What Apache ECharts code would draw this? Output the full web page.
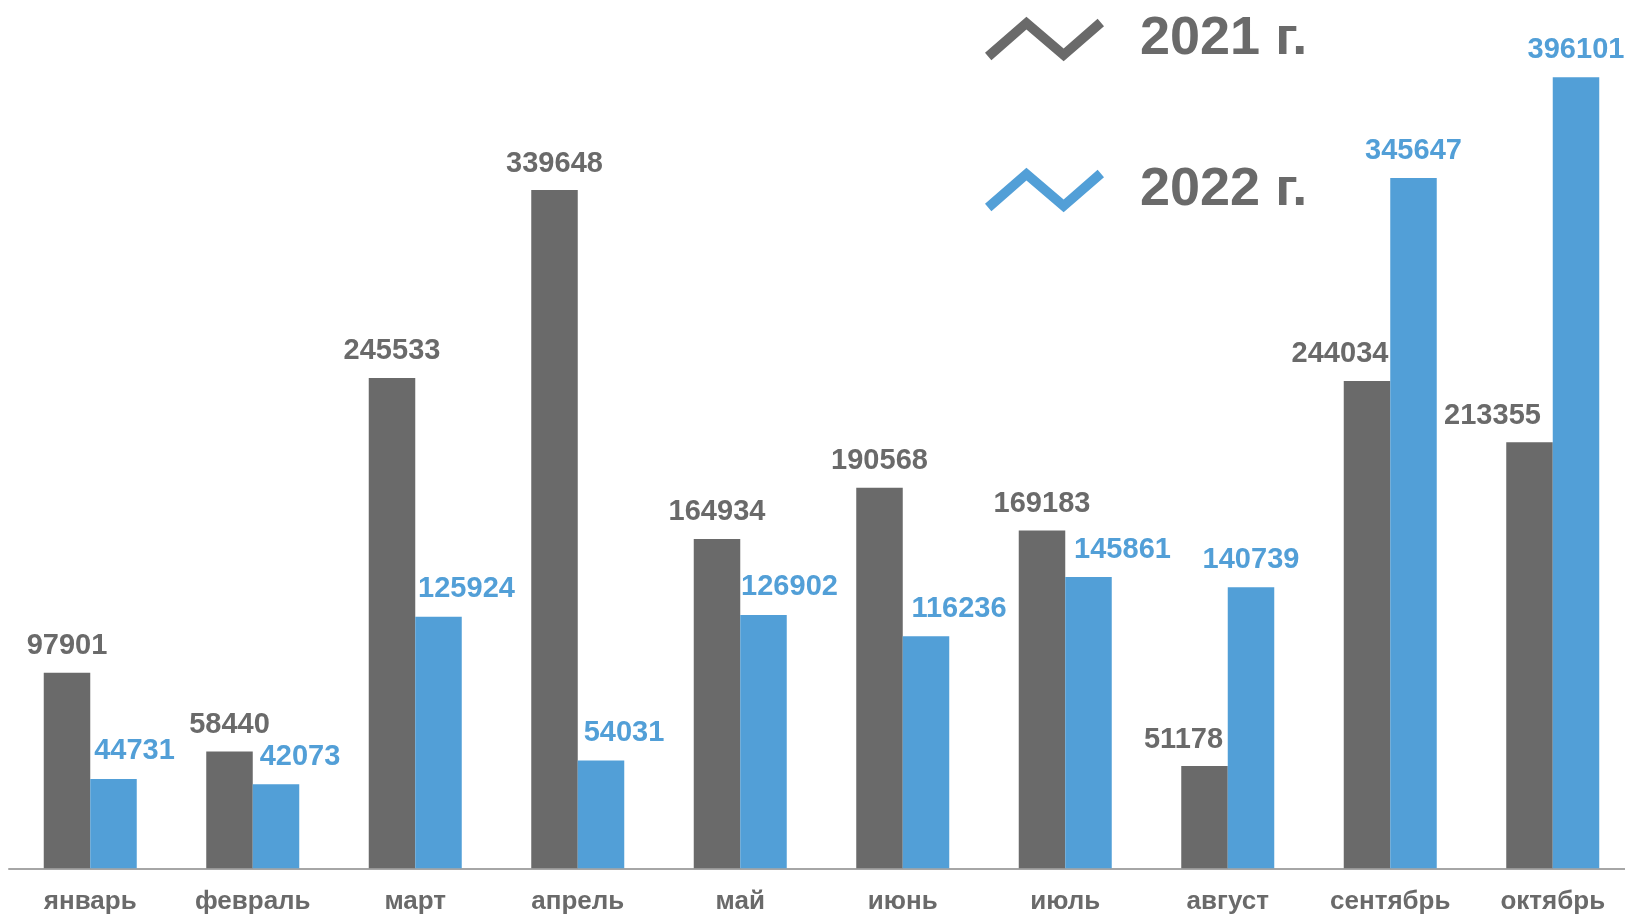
<!DOCTYPE html>
<html>
<head>
<meta charset="utf-8">
<script src="https://cdn.jsdelivr.net/npm/echarts@6/dist/echarts.min.js"></script>
<style>
html,body{margin:0;padding:0;background:#fff;}
#c{width:1625px;height:915px;}
</style>
</head>
<body>
<div id="c"></div>
<script>
var categories = ['январь','февраль','март','апрель','май','июнь','июль','август','сентябрь','октябрь'];
var series2021 = [97901, 58440, 245533, 339648, 164934, 190568, 169183, 51178, 244034, 213355];
var series2022 = [44731, 42073, 125924, 54031, 126902, 116236, 145861, 140739, 345647, 396101];
var seriesNames = ['2021 г.', '2022 г.'];
var labelShift2021 = [0, 0, 0, 0, 0, 0, 0, -21, -27, -37];
var labelShift2022 = [21, 24, 28, 23, 26, 33, 34, 0, 0, 0];

var GREY = '#6a6a6a', BLUE = '#529fd7';
var FONT = "'Liberation Sans', Arial, sans-serif";
var ICON = 'path://M0,34 L39,0 L74,30 L106,2 L112,9 L74,42 L39,12 L6,41 Z';

function mkData(vals, shifts) {
  return vals.map(function (v, i) {
    return { value: v, label: { offset: [shifts[i], 0] } };
  });
}

var chart = echarts.init(document.getElementById('c'), null, {renderer: 'canvas'});
chart.setOption({
  animation: false,
  backgroundColor: '#ffffff',
  legend: {
    orient: 'vertical',
    left: 985,
    top: 12,
    padding: 0,
    itemGap: 97,
    itemWidth: 119,
    itemHeight: 45,
    selectedMode: false,
    textStyle: { fontFamily: FONT, fontSize: 54, fontWeight: 'bold', color: GREY, padding: [0, 0, 0, 31] },
    data: [
      { name: seriesNames[0], icon: ICON },
      { name: seriesNames[1], icon: ICON }
    ]
  },
  grid: { left: 9, width: 1625, top: 69.5, bottom: 46.7, containLabel: false, outerBoundsMode: 'none' },
  xAxis: {
    type: 'category',
    data: categories,
    axisLine: { show: true, lineStyle: { color: '#a6a6a6', width: 2 } },
    axisTick: { show: false },
    axisLabel: { fontFamily: FONT, fontSize: 26, fontWeight: 'bold', color: GREY, margin: 21, interval: 0 }
  },
  yAxis: {
    type: 'value', min: 0, max: 400000, show: false,
    splitLine: { show: false }
  },
  series: [
    {
      name: seriesNames[0], type: 'bar', barWidth: 46.5, barGap: '0%',
      itemStyle: { color: GREY },
      label: { show: true, position: 'top', distance: 12, fontFamily: FONT, fontSize: 29, fontWeight: 'bold', color: GREY },
      data: mkData(series2021, labelShift2021)
    },
    {
      name: seriesNames[1], type: 'bar', barWidth: 46.5, barGap: '0%',
      itemStyle: { color: BLUE },
      label: { show: true, position: 'top', distance: 13, fontFamily: FONT, fontSize: 29, fontWeight: 'bold', color: BLUE },
      data: mkData(series2022, labelShift2022)
    }
  ]
});
</script>
</body>
</html>
